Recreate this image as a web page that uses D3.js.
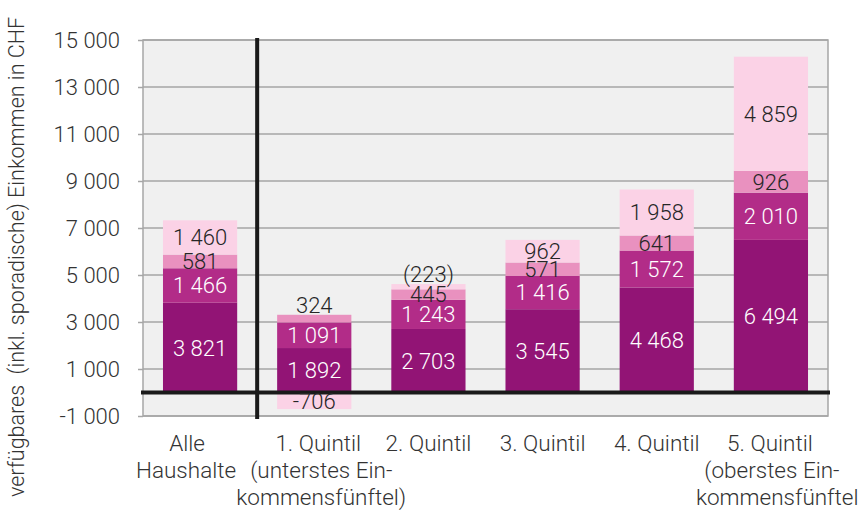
<!DOCTYPE html>
<html>
<meta charset="utf-8">
<style>
  body { margin: 0; background: #fff; }
  text { font-family: Roboto, sans-serif; font-weight: 300; }
</style>
<body>
<script src="https://d3js.org/d3.v7.min.js"></script>
<script>
  // categories and their label lines
  const kategorien = ["Alle", "Q1", "Q2", "Q3", "Q4", "Q5"];
  const kategorieZeilen = [
    ["Alle", "Haushalte"],
    ["1. Quintil", "(unterstes Ein-", "kommensfünftel)"],
    ["2. Quintil"],
    ["3. Quintil"],
    ["4. Quintil"],
    ["5. Quintil", "(oberstes Ein-", "kommensfünftel)"]
  ];
  // hand-read offsets of the label lines (px from band centre)
  const zeilenVersatz = [[-13, -14], [4, 7, 7], [0], [0], [0], [-1, 1, 10]];

  // stacked series, bottom to top
  const serie1 = [3821, 1892, 2703, 3545, 4468, 6494];
  const serie2 = [1466, 1091, 1243, 1416, 1572, 2010];
  const serie3 = [581, 324, 445, 571, 641, 926];
  const serie4 = [1460, -706, 223, 962, 1958, 4859];
  const serie4Klammer = [false, false, true, false, false, false];

  const yTicks = d3.range(-1000, 15001, 2000);

  const farben = ["#921475", "#b22c88", "#e991bf", "#fbd2e6"];
  const textFarben = ["#fff", "#fff", "#262626", "#262626"];

  const width = 858, height = 516;

  const svg = d3.select("body").append("svg")
    .attr("width", width)
    .attr("height", height);

  const x = d3.scaleBand()
    .domain(kategorien)
    .range([143, 828])
    .paddingInner(0.35)
    .paddingOuter(0.175);

  const y = d3.scaleLinear()
    .domain([-1000, 15000])
    .range([416, 40]);

  const fmt = d3.formatLocale({ decimal: ".", thousands: " ", grouping: [3], currency: ["", ""], minus: "-" }).format(",d");

  // plot background
  svg.append("rect")
    .attr("x", 143).attr("y", 40)
    .attr("width", 828 - 143).attr("height", 416 - 40)
    .attr("fill", "#f0f0f0")
    .attr("stroke", "#a6a6a6")
    .attr("stroke-width", 1.5);

  // grid + y axis
  const yAxis = svg.append("g")
    .attr("transform", "translate(143,0)")
    .call(d3.axisLeft(y).tickValues(yTicks).tickSize(5).tickFormat(fmt));
  yAxis.select(".domain").remove();
  yAxis.selectAll(".tick line").attr("stroke", "#a6a6a6").attr("stroke-width", 1.5);
  yAxis.selectAll(".tick text")
    .attr("x", -23)
    .attr("fill", "#333")
    .style("font-size", "22px")
    .style("font-family", "Roboto, sans-serif");

  svg.append("g").selectAll("line")
    .data(yTicks)
    .join("line")
    .attr("x1", 143).attr("x2", 828)
    .attr("y1", d => y(d)).attr("y2", d => y(d))
    .attr("stroke", "#a6a6a6")
    .attr("stroke-width", 1.5);

  // stacked data
  const tabelle = kategorien.map((k, i) => ({ k, s1: serie1[i], s2: serie2[i], s3: serie3[i], s4: serie4[i] }));
  const keys = ["s1", "s2", "s3", "s4"];
  const stack = d3.stack().keys(keys).offset(d3.stackOffsetDiverging)(tabelle);

  const gruppen = svg.append("g").selectAll("g")
    .data(stack)
    .join("g")
    .attr("fill", (d, i) => farben[i]);

  gruppen.selectAll("rect")
    .data(d => d)
    .join("rect")
    .attr("x", d => x(d.data.k))
    .attr("width", x.bandwidth())
    .attr("y", d => y(Math.max(d[0], d[1])))
    .attr("height", d => Math.abs(y(d[0]) - y(d[1])));

  // zero line and divider
  svg.append("line")
    .attr("x1", 141).attr("x2", 830)
    .attr("y1", y(0)).attr("y2", y(0))
    .attr("stroke", "#1a1a1a").attr("stroke-width", 4);

  const trenn = x(kategorien[0]) + x.bandwidth() + x.step() * x.paddingInner() / 2;
  svg.append("line")
    .attr("x1", trenn).attr("x2", trenn)
    .attr("y1", 38).attr("y2", 419)
    .attr("stroke", "#1a1a1a").attr("stroke-width", 4);

  // data labels (tiny segments get their label above the bar)
  stack.forEach((serie, si) => {
    svg.append("g").selectAll("text")
      .data(serie)
      .join("text")
      .attr("x", d => x(d.data.k) + x.bandwidth() / 2)
      .attr("y", d => {
        const h = Math.abs(y(d[0]) - y(d[1]));
        if (h < 8) return y(Math.max(d[0], d[1])) - 10;
        return (y(d[0]) + y(d[1])) / 2;
      })
      .attr("dy", "0.36em")
      .attr("text-anchor", "middle")
      .attr("fill", d => Math.abs(y(d[0]) - y(d[1])) < 8 ? "#262626" : textFarben[si])
      .style("font-size", "22px")
      .text((d, i) => {
        const t = fmt(d.data[keys[si]]);
        return si === 3 && serie4Klammer[i] ? "(" + t + ")" : t;
      });
  });

  // category labels
  const kat = svg.append("g").selectAll("text")
    .data(kategorien)
    .join("text")
    .attr("text-anchor", "middle")
    .attr("fill", "#333")
    .style("font-size", "22.5px");
  kat.each(function (k, i) {
    const cx = x(k) + x.bandwidth() / 2;
    kategorieZeilen[i].forEach((z, j) => {
      d3.select(this).append("tspan")
        .attr("x", cx + zeilenVersatz[i][j])
        .attr("y", 451 + j * 27)
        .text(z);
    });
  });

  // y title
  svg.append("text")
    .attr("transform", "translate(24,257) rotate(-90)")
    .attr("text-anchor", "middle")
    .attr("fill", "#333")
    .style("font-size", "21.5px")
    .style("white-space", "pre")
    .text("verfügbares  (inkl. sporadische) Einkommen in CHF");
</script>
</body>
</html>
